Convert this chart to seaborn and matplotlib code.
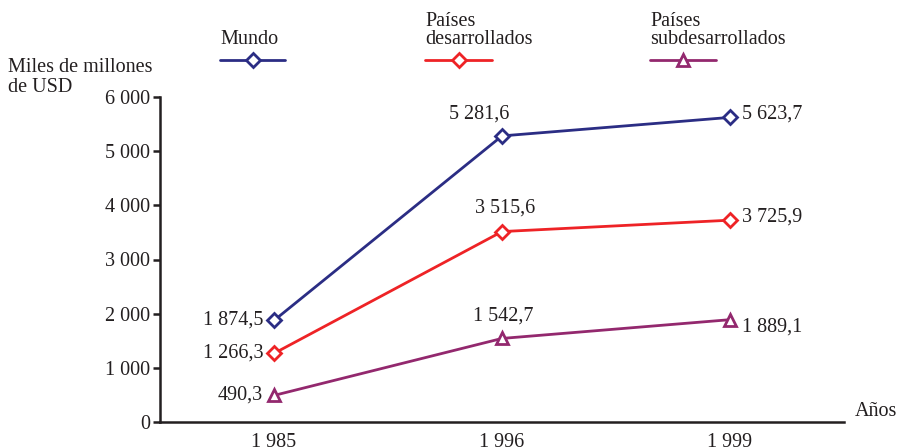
import matplotlib
matplotlib.use("Agg")
import matplotlib.pyplot as plt
from matplotlib.lines import Line2D
import seaborn as sns

# datos
years = ["1 985", "1 996", "1 999"]
mundo = [1874.5, 5281.6, 5623.7]
desarrollados = [1266.3, 3515.6, 3725.9]
subdesarrollados = [490.3, 1542.7, 1889.1]
mundo_lbl = ["1 874,5", "5 281,6", "5 623,7"]
desarr_lbl = ["1 266,3", "3 515,6", "3 725,9"]
subdes_lbl = ["490,3", "1 542,7", "1 889,1"]
yticks = [0, 1000, 2000, 3000, 4000, 5000, 6000]
ytick_lbl = ["0", "1 000", "2 000", "3 000", "4 000", "5 000", "6 000"]

C_MUNDO = "#2b2d84"
C_DES = "#ee2326"
C_SUB = "#93286e"
INK = "#231f20"

sns.set_style("white")
plt.rcParams["font.family"] = ["Liberation Serif", "DejaVu Serif"]
FS = 14.5

W, H = 897, 448
fig = plt.figure(figsize=(W / 100, H / 100), dpi=100)
ax = fig.add_axes([160 / W, 1 - 422 / H, (844 - 160) / W, (422 - 97) / H])

xpos = list(range(len(years)))
series = [
    (mundo, mundo_lbl, C_MUNDO, "D", 7),
    (desarrollados, desarr_lbl, C_DES, "D", 7),
    (subdesarrollados, subdes_lbl, C_SUB, "^", 9),
]
for vals, lbls, col, mk, ms in series:
    sns.lineplot(x=xpos, y=vals, ax=ax, color=col, lw=2, marker=mk, ms=ms,
                 markerfacecolor="white", markeredgecolor=col, markeredgewidth=2,
                 clip_on=False, zorder=3)

# etiquetas de valores (desplazamiento en px)
lbl_offsets = {
    0: [(-11, 0, "right", "center")] * 3,
    1: [(-23, 22, "center", "center"), (3, 24, "center", "center"), (1, 22, "center", "center")],
    2: [(12, 3, "left", "center"), (12, 3, "left", "center"), (12, -7, "left", "center")],
}
for i, (vals, lbls, col, mk, ms) in enumerate(series):
    for j in xpos:
        dx, dy, ha, va = lbl_offsets[j][i]
        ax.annotate(lbls[j], (j, vals[j]), xytext=(dx * 0.72, dy * 0.72),
                    textcoords="offset points", ha=ha, va=va, fontsize=FS, color=INK)

ax.set_xlim(-0.5, 2.5)
ax.set_ylim(0, 6000)
ax.set_xticks([-0.5, 0.5, 1.5, 2.5])
ax.set_xticklabels([])
ax.set_xticks(xpos, minor=True)
ax.set_xticklabels(years, minor=True, fontsize=FS, color=INK)
ax.tick_params(axis="x", which="major", direction="out", length=7, width=1.8, color=INK)
ax.tick_params(axis="x", which="minor", length=0, pad=8)
ax.set_yticks(yticks)
ax.set_yticklabels(ytick_lbl, fontsize=FS, color=INK)
ax.tick_params(axis="y", direction="out", length=5, width=1.8, color=INK, pad=2, left=True)
for s in ["top", "right"]:
    ax.spines[s].set_visible(False)
for s in ["left", "bottom"]:
    ax.spines[s].set_linewidth(1.8)
    ax.spines[s].set_color(INK)
ax.set_xlabel("")
ax.set_ylabel("")

fig.text(855 / W, 1 - 412 / H, "Años", fontsize=FS, color=INK, ha="left", va="center")
fig.text(8 / W, 1 - 58 / H, "Miles de millones\nde USD", fontsize=FS, color=INK,
         ha="left", va="top", linespacing=1.05)

# leyenda
legend_items = [
    ("Mundo", C_MUNDO, "D", 7, 220, 285),
    ("Países\ndesarrollados", C_DES, "D", 7, 425, 492),
    ("Países\nsubdesarrollados", C_SUB, "^", 9, 650, 716),
]
for name, col, mk, ms, x0, x1 in legend_items:
    yy = 1 - 60 / H
    fig.add_artist(Line2D([x0 / W, x1 / W], [yy, yy], color=col, lw=2))
    fig.add_artist(Line2D([(x0 + x1) / 2 / W], [yy], color=col, marker=mk, ms=ms,
                          markerfacecolor="white", markeredgecolor=col, markeredgewidth=2))
    fig.text(x0 / W, 1 - 49 / H, name, fontsize=FS, color=INK, ha="left", va="bottom",
             linespacing=0.95)

fig.savefig("out.png", dpi=100)
